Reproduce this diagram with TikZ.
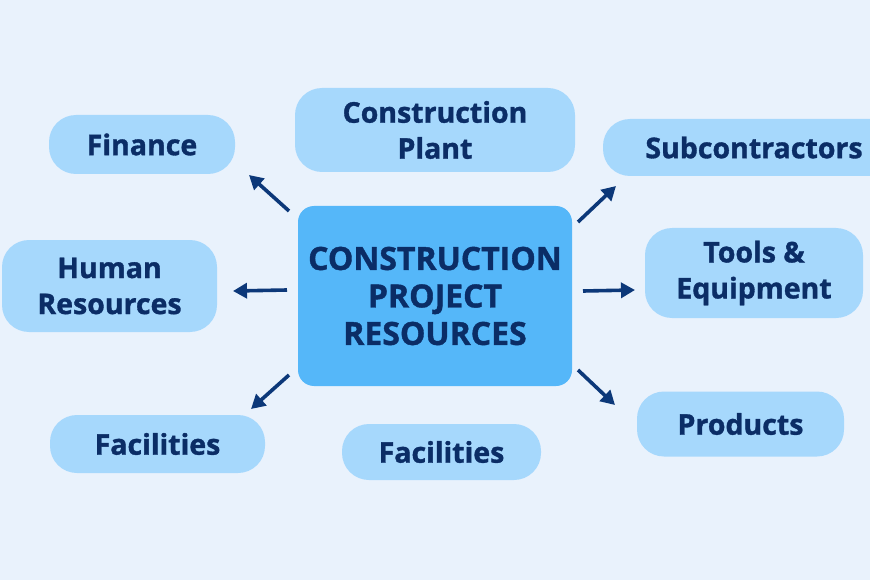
\documentclass[tikz,border=0pt]{standalone}
\usepackage{fontspec}
\setmainfont{Open Sans}[BoldFeatures={FakeBold=1.2}]
\usetikzlibrary{arrows.meta}
\definecolor{bgc}{HTML}{E9F2FC}
\definecolor{hubc}{HTML}{55B7F9}
\definecolor{leafc}{HTML}{A6D8FC}
\definecolor{txtc}{HTML}{0B2D66}
\definecolor{arrc}{HTML}{0C3879}
\tikzset{
  leaf/.style={rectangle, rounded corners=27pt, fill=leafc, draw=none,
    text=txtc, align=center, inner sep=0pt,
    font=\bfseries\fontsize{28.5}{36}\selectfont},
  hub/.style={rectangle, rounded corners=16pt, fill=hubc, draw=none,
    text=txtc, align=center, inner sep=0pt,
    font=\bfseries\fontsize{32}{37.5}\selectfont},
  arr/.style={draw=arrc, line width=3.6pt, -{Triangle[length=14pt,width=15pt]}}
}
\begin{document}
\begin{tikzpicture}[x=1pt,y=-1pt]
\fill[bgc] (0,0) rectangle (870,580);
\useasboundingbox (0,0) rectangle (870,580);

\node[hub, minimum width=274pt, minimum height=180pt] (hub) at (435,296)
  {CONSTRUCTION\\PROJECT\\RESOURCES};

\node[leaf, minimum width=186pt, minimum height=59pt] (fin) at (142,144.5) {Finance};
\node[leaf, minimum width=280pt, minimum height=84pt] (plant) at (435,130) {Construction\\Plant};
\node[leaf, minimum width=302pt, minimum height=57pt] (sub) at (754,147.5) {Subcontractors};
\node[leaf, minimum width=215pt, minimum height=92pt] (hr) at (109.5,286) {Human\\Resources};
\node[leaf, minimum width=218pt, minimum height=90pt] (tools) at (754,273) {Tools \&\\Equipment};
\node[leaf, minimum width=215pt, minimum height=58pt] (facl) at (157.5,444) {Facilities};
\node[leaf, minimum width=199pt, minimum height=56pt] (facb) at (441.5,452) {Facilities};
\node[leaf, minimum width=207pt, minimum height=65pt] (prod) at (740.5,424) {Products};

\coordinate (a1s) at (289,211); \coordinate (a1e) at (249,175);
\coordinate (a2s) at (578,222); \coordinate (a2e) at (616,186);
\coordinate (a3s) at (287,290); \coordinate (a3e) at (233,291);
\coordinate (a4s) at (583,291); \coordinate (a4e) at (635,290);
\coordinate (a5s) at (289,375); \coordinate (a5e) at (251,409);
\coordinate (a6s) at (578,370); \coordinate (a6e) at (615,405);

\draw[arr] (a1s) -- (a1e);
\draw[arr] (a2s) -- (a2e);
\draw[arr] (a3s) -- (a3e);
\draw[arr] (a4s) -- (a4e);
\draw[arr] (a5s) -- (a5e);
\draw[arr] (a6s) -- (a6e);
\end{tikzpicture}
\end{document}
